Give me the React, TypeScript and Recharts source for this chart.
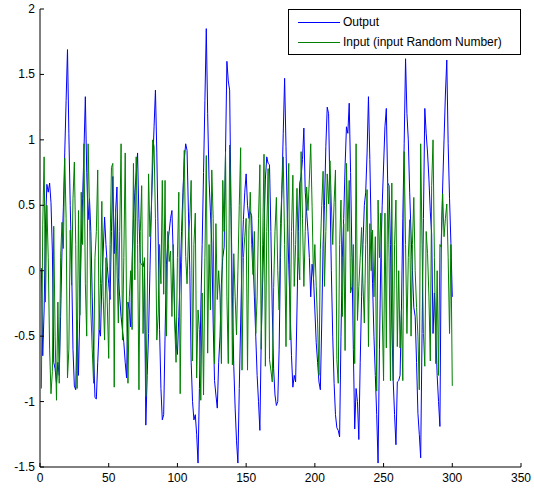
import { LineChart, Line, XAxis, YAxis } from "recharts";

// values, sample 1..300
const outputValues = [
  0.02, -0.65, -0.3, 0.35, 0.66, 0.6, 0.67, 0.52, 0.15, -0.7,
  -0.75, -0.86, -0.7, -0.8, -0.35, 0.15, 0.48, 0.9, 1.3, 1.69,
  1.05, 0.5, 0.05, -0.6, -0.88, -0.91, -0.38, -0.8, -0.3, 0.2,
  0.55, 0.92, 1.33, 0.75, 0.39, 0.55, 0.3, -0.2, -0.62, -0.97,
  -0.98, -0.7, -0.45, -0.5, -0.1, 0.15, 0.41, 0.2, 0.03, -0.1,
  -0.22, 0.3, 0.72, 0.13, 0.45, 0.64, -0.05, -0.2, -0.35, -0.45,
  -0.55, -0.7, -0.82, -0.24, -0.3, -0.43, 0.08, 0.4, 0.6, 0.74,
  0.9, 0.4, 0.06, 0.05, 0.03, 0.08, -1.18, -0.8, -0.48, 0.0,
  0.46, 0.8, 1.1, 1.38, 0.9, 0.25, -0.45, -0.9, -1.14, -1.1,
  -0.5, 0.05, 0.21, 0.3, 0.4, 0.46, 0.1, -0.35, -0.55, -0.64,
  -0.35, -0.05, 0.3, 0.6, 0.85, 0.97, 0.92, 0.45, 0.0, -0.7,
  -1.0, -1.14, -1.1, -1.25, -1.47, -0.9, -0.3, 0.2, 0.75, 1.3,
  1.85, 1.2, 0.7, 0.45, 0.21, -0.4, -0.84, -0.95, -1.05, -0.7,
  -0.5, -0.1, 0.1, 0.18, 0.9, 1.6, 1.45, 1.38, 0.49, -0.2,
  -0.73, -1.05, -1.3, -1.47, -0.9, -0.4, 0.1, 0.39, 0.6, 0.74,
  0.5, 0.4, 0.45, 0.42, 0.1, -0.2, -0.5, -0.8, -1.0, -1.22,
  -0.5, -0.1, 0.3, 0.7, 0.87, 0.82, 0.81, 0.3, -0.3, -0.75,
  -0.95, -1.03, -1.0, -0.6, 0.1, 0.62, 1.05, 1.47, 0.95, 0.4,
  0.05, -0.3, -0.65, -0.89, -0.8, -0.85, -0.3, 0.3, 0.67, 0.72,
  0.85, 1.09, 0.6, 0.45, 0.3, 0.1, -0.2, 0.05, -0.05, -0.3,
  -0.55, -0.7, -0.85, -0.91, -0.4, 0.2, 0.5, 0.95, 1.25, 1.2,
  0.6, 0.0, -0.5, -0.86, -1.1, -1.2, -1.22, -1.27, -0.5, 0.1,
  0.4, 0.8, 1.1, 1.05, 1.28, 0.75, 0.1, -0.6, -1.21, -0.9,
  -1.0, -1.29, -0.7, -0.2, 0.2, 0.5, 0.6, 0.9, 1.33, 0.85,
  0.3, -0.1, -0.5, -0.8, -1.1, -1.47, -0.6, 0.1, 0.5, 0.8,
  1.1, 1.24, 0.67, 0.65, 0.2, -0.4, -0.84, -1.1, -1.33, -0.85,
  -0.84, -0.8, -0.3, 0.4, 0.97, 1.62, 1.2, 1.0, 0.6, 0.28,
  0.0, -0.28, -0.35, -0.7, -1.09, -1.25, -1.43, -0.48, 0.4, 1.24,
  1.05, 0.9, 0.7, 0.45, 0.28, -0.48, -0.17, -0.48, -0.8, -1.0,
  -1.19, 0.23, 0.64, 1.0, 1.35, 1.61, 0.97, 0.55, 0.21, -0.2,
];

const inputValues = [
  -0.9, 0.35, 0.87, -0.24, 0.5, 0.1, -0.6, -0.94, -0.77, 0.34,
  -0.5, -0.99, -0.24, -0.86, 0.1, 0.37, 0.17, 0.86, 0.4, -0.82,
  -0.6, 0.31, -0.11, 0.55, 0.83, 0.2, -0.9, 0.46, -0.34, 0.6,
  0.2, 0.97, -0.1, -0.5, 0.97, 0.5, -0.3, -0.6, -0.86, 0.1,
  0.3, 0.77, -0.45, -0.1, 0.53, -0.2, -0.53, 0.1, -0.27, -0.67,
  0.2, 0.79, 0.82, -0.89, 0.46, 0.03, -0.4, 0.3, 0.97, -0.53,
  0.1, 0.9, -0.3, -0.86, -0.2, 0.0, -0.45, 0.82, -0.07, 0.87,
  0.2, -0.91, 0.3, 0.65, -0.48, 0.1, -0.96, -0.3, 0.74, 0.26,
  0.46, 1.0, 0.95, 0.4, -0.53, -0.33, 0.2, -0.1, 0.69, -0.18,
  0.69, -0.5, 0.3, 0.07, 0.15, -0.35, 0.2, -0.4, -0.7, 0.1,
  0.6, -0.94, 0.06, 0.5, 0.92, 0.11, -0.1, 0.26, 0.4, 0.69,
  -0.69, 0.2, 0.44, -0.82, -0.3, -0.45, -0.99, -0.17, -0.95, 0.1,
  0.88, -0.63, 0.2, -0.3, 0.77, 0.4, -0.71, 0.36, -0.22, 0.0,
  -0.2, -0.71, 0.69, 0.3, 0.91, -0.2, -0.71, 0.96, 0.4, -0.72,
  0.13, -0.2, -0.49, 0.0, 0.5, 0.94, -0.76, 0.1, 0.26, 0.4,
  -0.76, 0.31, 0.6, 0.2, -0.03, 0.3, -0.48, -0.2, 0.4, 0.81,
  -0.6, 0.2, 0.89, -0.73, 0.3, 0.78, -0.68, -0.76, -0.85, -0.13,
  0.3, 0.56, 0.0, -0.3, 0.36, 0.6, 0.87, 0.2, -0.58, 0.4,
  0.82, -0.53, 0.3, 0.73, -0.12, 0.2, 0.63, 0.11, -0.07, 0.91,
  0.4, -0.12, 0.3, 0.64, 0.46, 0.7, 0.97, 0.49, -0.07, 0.2,
  -0.12, -0.4, -0.8, 0.16, 0.5, 0.76, -0.12, 0.3, 0.74, 0.51,
  0.84, 0.51, 0.2, 0.52, 0.77, -0.68, -0.86, 0.2, 0.54, -0.35,
  0.36, -0.61, 0.82, 0.3, 0.69, -0.17, -0.12, 0.2, -0.71, 0.97,
  -0.38, -0.12, 0.1, 0.33, -0.1, -0.4, 0.2, 0.62, -0.58, 0.36,
  0.0, 0.31, -0.2, 0.26, -0.92, 0.54, 0.1, 0.44, -0.3, -0.84,
  0.44, -0.59, 0.67, 0.1, -0.84, 0.67, -0.84, 0.2, 0.54, -0.58,
  0.0, -0.59, -0.3, -0.84, 0.91, 0.2, -0.48, 0.1, 0.39, -0.5,
  0.2, 0.56, 0.0, -0.28, -0.5, -0.91, 0.97, 0.2, -0.48, -0.73,
  0.3, 0.13, -0.2, -0.69, 0.65, 1.0, 0.1, -0.71, 0.0, -0.8,
  0.2, 0.18, 0.59, 0.26, 0.4, 0.51, 0.1, -0.48, 0.2, -0.88,
];

const xTicks = [0, 50, 100, 150, 200, 250, 300, 350];
const yTicks = [-1.5, -1, -0.5, 0, 0.5, 1, 1.5, 2];
const seriesNames = ["Output", "Input (input Random Number)"];
const seriesColors = ["#0000ff", "#008000"];

const data = outputValues.map((v, i) => ({ x: i + 1, output: v, input: inputValues[i] }));

const FONT = "'Liberation Sans', Arial, sans-serif";
const TICK_LEN = 4;

const BottomTick = ({ x, y, payload }: any) => (
  <g>
    <line x1={x} y1={y} x2={x} y2={y - TICK_LEN} stroke="#000" />
    <text x={x} y={y + 15} textAnchor="middle" fontSize={12} fontFamily={FONT} fill="#000">
      {payload.value}
    </text>
  </g>
);

const TopTick = ({ x, y }: any) => <line x1={x} y1={y} x2={x} y2={y + TICK_LEN} stroke="#000" />;

const LeftTick = ({ x, y, payload }: any) => (
  <g>
    <line x1={x} y1={y} x2={x + TICK_LEN} y2={y} stroke="#000" />
    <text x={x - 5} y={y + 4} textAnchor="end" fontSize={12} fontFamily={FONT} fill="#000">
      {payload.value}
    </text>
  </g>
);

const RightTick = ({ x, y }: any) => <line x1={x} y1={y} x2={x - TICK_LEN} y2={y} stroke="#000" />;

export default function App() {
  return (
    <div style={{ position: "absolute", left: 0, top: 0, width: 534, height: 489, background: "#fff" }}>
      <LineChart width={534} height={489} data={data} margin={{ top: 9, right: 13, left: 0, bottom: 0 }}>
        <XAxis
          dataKey="x"
          type="number"
          domain={[0, 350]}
          ticks={xTicks}
          height={22}
          tickLine={false}
          tickSize={0}
          tickMargin={0}
          axisLine={{ stroke: "#000" }}
          tick={BottomTick}
        />
        <XAxis
          xAxisId="top"
          orientation="top"
          dataKey="x"
          type="number"
          domain={[0, 350]}
          ticks={xTicks}
          height={0}
          tickLine={false}
          tickSize={0}
          tickMargin={0}
          axisLine={{ stroke: "#000" }}
          tick={TopTick}
        />
        <YAxis
          type="number"
          domain={[-1.5, 2]}
          ticks={yTicks}
          width={40}
          tickLine={false}
          tickSize={0}
          tickMargin={0}
          axisLine={{ stroke: "#000" }}
          tick={LeftTick}
        />
        <YAxis
          yAxisId="right"
          orientation="right"
          type="number"
          domain={[-1.5, 2]}
          ticks={yTicks}
          width={0}
          tickLine={false}
          tickSize={0}
          tickMargin={0}
          axisLine={{ stroke: "#000" }}
          tick={RightTick}
        />
        <Line
          dataKey="output"
          name={seriesNames[0]}
          stroke={seriesColors[0]}
          strokeWidth={1}
          dot={false}
          isAnimationActive={false}
        />
        <Line
          dataKey="input"
          name={seriesNames[1]}
          stroke={seriesColors[1]}
          strokeWidth={1}
          dot={false}
          isAnimationActive={false}
        />
      </LineChart>
      <div
        style={{
          position: "absolute",
          left: 288,
          top: 9,
          width: 233,
          boxSizing: "border-box",
          border: "1px solid #000",
          background: "#fff",
          fontFamily: FONT,
          fontSize: 12,
          padding: "2px 6px 2px 9px",
          lineHeight: "20px",
        }}
      >
        {seriesNames.map((name, i) => (
          <div key={name} style={{ display: "flex", alignItems: "center" }}>
            <span
              style={{ display: "inline-block", width: 42, height: 1, background: seriesColors[i], marginRight: 3 }}
            />
            {name}
          </div>
        ))}
      </div>
    </div>
  );
}
